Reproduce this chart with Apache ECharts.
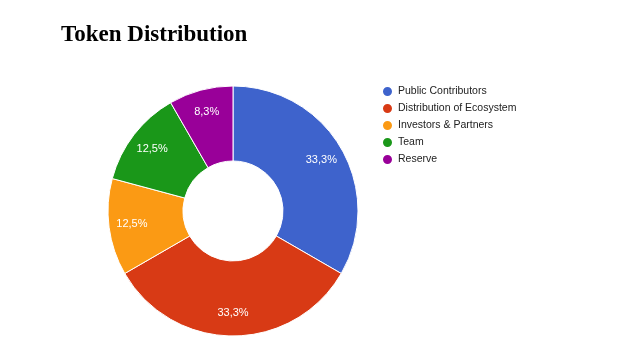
<!DOCTYPE html>
<html>
<head>
<meta charset="utf-8">
<script src="https://cdn.jsdelivr.net/npm/echarts@6/dist/echarts.min.js"></script>
<style>
html,body{margin:0;padding:0;background:#fff;}
#c{width:628px;height:362px;}
</style>
</head>
<body>
<div id="c"></div>
<script>
var categories = ['Public Contributors', 'Distribution of Ecosystem', 'Investors & Partners', 'Team', 'Reserve'];
var values = [33.3, 33.3, 12.5, 12.5, 8.3];
var colors = ['#3e63cc', '#d83a15', '#fb9a14', '#1a9719', '#990099'];

var chart = echarts.init(document.getElementById('c'), null, {renderer: 'canvas'});
var data = categories.map(function (n, i) { return {name: n, value: values[i]}; });
function fmt(p) { return p.value.toFixed(1).replace('.', ',') + '%'; }
chart.setOption({
  animation: false,
  color: colors,
  title: {
    text: 'Token Distribution',
    left: 56, top: 19,
    textStyle: {fontFamily: 'Liberation Serif', fontWeight: 'bold', fontSize: 23, color: '#000'}
  },
  legend: {
    orient: 'vertical',
    left: 376, top: 80,
    icon: 'circle',
    itemWidth: 11, itemHeight: 11,
    itemGap: 4,
    textStyle: {fontFamily: 'Liberation Sans', fontSize: 10.5, color: '#222'},
    data: categories
  },
  series: [{
    type: 'pie',
    center: [233, 211],
    radius: [50, 125],
    startAngle: 90,
    clockwise: true,
    label: {show: false},
    labelLine: {show: false},
    itemStyle: {borderColor: '#fff', borderWidth: 1},
    emphasis: {disabled: true},
    data: data
  }, {
    type: 'pie',
    center: [233, 211],
    radius: [80, 118],
    startAngle: 90,
    clockwise: true,
    silent: true,
    legendHoverLink: false,
    itemStyle: {color: 'rgba(0,0,0,0)'},
    label: {show: true, position: 'inside', formatter: fmt, color: '#fff', fontFamily: 'Liberation Sans', fontSize: 11},
    labelLine: {show: false},
    emphasis: {disabled: true},
    data: data.map(function (d) { return {name: d.name + ' ', value: d.value}; })
  }]
});
</script>
</body>
</html>
